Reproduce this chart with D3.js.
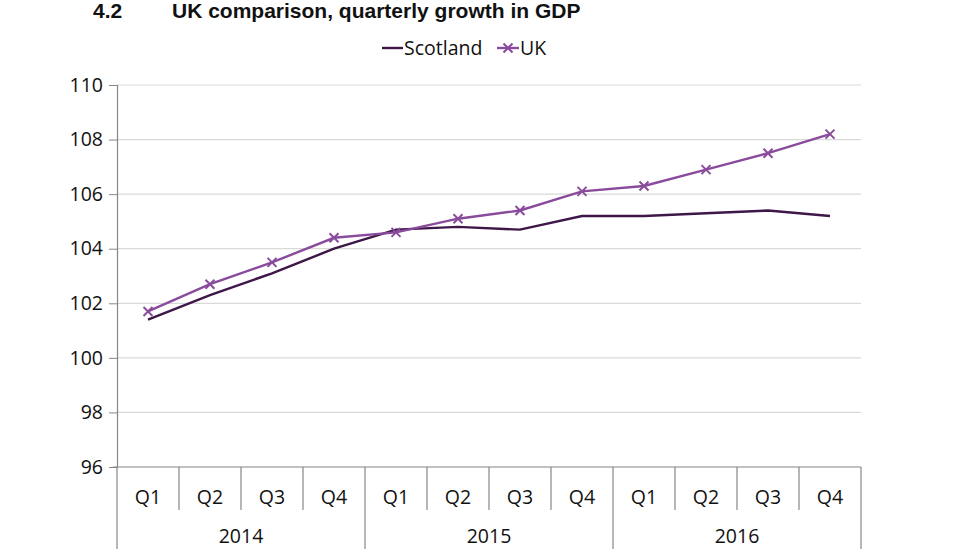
<!DOCTYPE html>
<html><head><meta charset="utf-8">
<script src="https://cdn.jsdelivr.net/npm/d3@7"></script>
<style>body{margin:0;background:#fff;}svg{display:block;}</style>
</head><body>
<svg id="chart" width="976" height="549"></svg>
<script>
const years = ["2014","2015","2016"];
const quarters = ["Q1","Q2","Q3","Q4"];
const categories = ["2014 Q1","2014 Q2","2014 Q3","2014 Q4","2015 Q1","2015 Q2","2015 Q3","2015 Q4","2016 Q1","2016 Q2","2016 Q3","2016 Q4"];
const scotland = [101.4,102.3,103.1,104.0,104.7,104.8,104.7,105.2,105.2,105.3,105.4,105.2];
const uk = [101.7,102.7,103.5,104.4,104.6,105.1,105.4,106.1,106.3,106.9,107.5,108.2];
const yTicks = [96,98,100,102,104,106,108,110];

const svg = d3.select("#chart");
const pL = 117, pR = 861, pT = 85, pB = 467;
const font = "'Open Sans', sans-serif";
const fs = 19.5;
const x = d3.scaleBand().domain(categories).range([pL, pR]).padding(0);
const y = d3.scaleLinear().domain([96,110]).range([pB, pT]);

// title
svg.append("text").attr("x",93).attr("y",18).attr("font-family","'Liberation Sans', Arial, sans-serif")
  .attr("font-weight","bold").attr("font-size",21).attr("fill","#111").text("4.2");
svg.append("text").attr("x",172).attr("y",18).attr("font-family","'Liberation Sans', Arial, sans-serif")
  .attr("font-weight","bold").attr("font-size",21).attr("fill","#111").text("UK comparison, quarterly growth in GDP");

// gridlines
svg.append("g").selectAll("line").data(yTicks.filter(d=>d!==96)).join("line")
  .attr("x1",pL).attr("x2",pR).attr("y1",d=>y(d)).attr("y2",d=>y(d))
  .attr("stroke","#d9d9d9").attr("stroke-width",1.2);

// y axis
const yAxis = svg.append("g").attr("transform",`translate(${pL},0)`)
  .call(d3.axisLeft(y).tickValues(yTicks).tickSize(8).tickPadding(6));
yAxis.select(".domain").attr("stroke","#868686").attr("stroke-width",1.2);
yAxis.selectAll(".tick line").attr("stroke","#868686");
yAxis.selectAll("text").attr("font-family",font).attr("font-size",fs).attr("fill","#111");

// x axis (quarters)
svg.append("line").attr("x1",pL-4).attr("x2",pR).attr("y1",pB).attr("y2",pB)
  .attr("stroke","#868686").attr("stroke-width",1.2);
const bw = x.bandwidth();
svg.append("g").selectAll("line").data(categories.slice(1)).join("line")
  .attr("x1",d=>x(d)).attr("x2",d=>x(d)).attr("y1",pB).attr("y2",d=>d.endsWith("Q1")?549:510)
  .attr("stroke","#868686").attr("stroke-width",1.2);
svg.append("line").attr("x1",pL).attr("x2",pL).attr("y1",pB).attr("y2",549).attr("stroke","#868686").attr("stroke-width",1.2);
svg.append("line").attr("x1",pR).attr("x2",pR).attr("y1",pB).attr("y2",549).attr("stroke","#868686").attr("stroke-width",1.2);
svg.append("g").selectAll("text").data(categories).join("text")
  .attr("x",d=>x(d)+bw/2).attr("y",504).attr("text-anchor","middle")
  .attr("font-family",font).attr("font-size",fs).attr("fill","#111")
  .text(d=>d.split(" ")[1]);
svg.append("g").selectAll("text").data(years).join("text")
  .attr("x",d=>x(d+" Q1")+bw*2).attr("y",543).attr("text-anchor","middle")
  .attr("font-family",font).attr("font-size",fs).attr("fill","#111").text(d=>d);

const cScot = "#3e1648", cUK = "#8a4b9c";
const line = d3.line().x((d,i)=>x(categories[i])+bw/2).y(d=>y(d));
svg.append("path").datum(scotland).attr("d",line).attr("fill","none").attr("stroke",cScot).attr("stroke-width",2.4);
svg.append("path").datum(uk).attr("d",line).attr("fill","none").attr("stroke",cUK).attr("stroke-width",2.4);
const m = 4.5;
svg.append("g").selectAll("path").data(uk).join("path")
  .attr("d",(d,i)=>{const cx=x(categories[i])+bw/2, cy=y(d);return `M${cx-m},${cy-m}L${cx+m},${cy+m}M${cx-m},${cy+m}L${cx+m},${cy-m}`;})
  .attr("stroke",cUK).attr("stroke-width",2);

// legend
const lg = svg.append("g");
lg.append("line").attr("x1",382).attr("x2",403).attr("y1",48).attr("y2",48).attr("stroke",cScot).attr("stroke-width",2.4);
lg.append("text").attr("x",404).attr("y",55).attr("font-family",font).attr("font-size",fs).attr("fill","#111").text("Scotland");
lg.append("line").attr("x1",497).attr("x2",519).attr("y1",48).attr("y2",48).attr("stroke",cUK).attr("stroke-width",2.4);
lg.append("path").attr("d",`M${508-m},${48-m}L${508+m},${48+m}M${508-m},${48+m}L${508+m},${48-m}`).attr("stroke",cUK).attr("stroke-width",2);
lg.append("text").attr("x",520).attr("y",55).attr("font-family",font).attr("font-size",fs).attr("fill","#111").text("UK");
</script>
</body></html>
